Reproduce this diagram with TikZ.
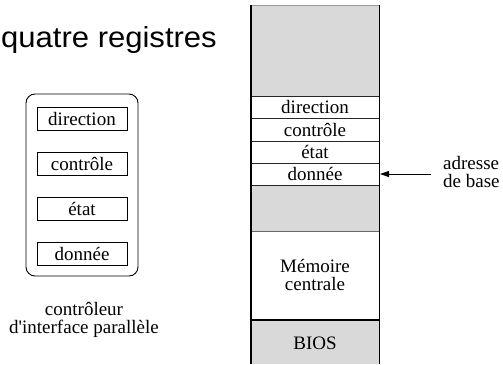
\documentclass[tikz,border=0pt]{standalone}
\usepackage{fontspec}
\setmainfont{Liberation Serif}[Ligatures=TeXOff]
\newfontfamily\titlefont{Liberation Sans}
\usetikzlibrary{arrows.meta}
\definecolor{memgray}{gray}{0.85}
\tikzset{
  lbl/.style={inner sep=0pt, font=\fontsize{19}{18.5}\selectfont},
  reg/.style={draw, line width=0.9pt},
  sep/.style={line width=0.7pt, draw=black!85},
  graycell/.style={fill=memgray},
}
\begin{document}
\begin{tikzpicture}[x=1pt,y=-1pt]
\useasboundingbox (0,0) rectangle (503,364);

% title
\node[anchor=base west, inner sep=0pt, font=\titlefont\fontsize{29}{31}\selectfont] (title) at (1,47) {\scalebox{1.07}[1]{quatre registres}};

% parallel interface controller with its four registers
\draw[line width=0.9pt, rounded corners=9pt] (26,94) rectangle (138,276);
\foreach \n/\t/\y in {dir/direction/107, ctl/contrôle/152, eta/état/197, don/donnée/242}{
  \draw[reg] (37,\y) rectangle (127,\y+23);
  \node[lbl] (L\n) at (82,\y+11.5) {\t};
}
\node[lbl, align=center] (cap) at (84,320) {contrôleur\\d'interface parallèle};

% address space column
\path[graycell] (251,5) rectangle (379,96);
\path[graycell] (251,185) rectangle (379,231);
\path[graycell] (251,320) rectangle (379,364);
\draw[line width=0.6pt, draw=black!40] (251,5) -- (379,5);
\foreach \a in {96, 118, 141, 163, 185}{
  \draw[sep] (251,\a) -- (379,\a);
}
\draw[line width=0.6pt, draw=black!60] (251,231) -- (379,231);
\draw[line width=1.4pt] (251,320) -- (379,320);
\draw[line width=1.5pt] (251,5) -- (251,364);
\draw[line width=0.9pt] (379,5) -- (379,364);

\node[lbl] (Mdir) at (315,107) {direction};
\node[lbl] (Mctl) at (315,129.5) {contrôle};
\node[lbl] (Meta) at (315,152) {état};
\node[lbl] (Mdon) at (315,174) {donnée};
\node[lbl, align=center] (mem) at (315,275) {Mémoire\\centrale};
\node[lbl] (bios) at (315,343) {BIOS};

% base address pointer
\node[lbl, anchor=west, align=left] (adr) at (443,172) {adresse\\de base};
\coordinate (head) at (380,174);
\draw[line width=0.9pt, -{Triangle[length=9pt,width=6pt]}] (adr.west |- head) ++(-12,0) coordinate (tail) -- (head);
\end{tikzpicture}
\end{document}
